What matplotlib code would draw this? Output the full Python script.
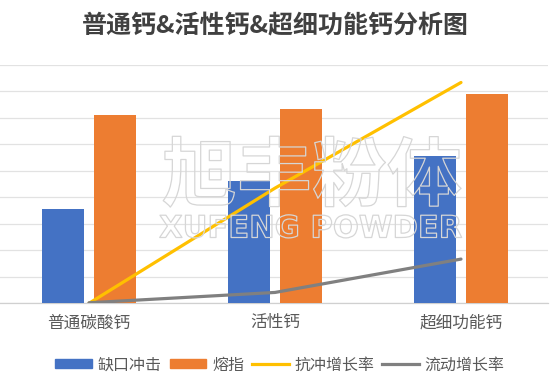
import numpy as np
import matplotlib
matplotlib.use('Agg')
import matplotlib.pyplot as plt
import matplotlib.patheffects as pe
from matplotlib.patches import Patch
from matplotlib.lines import Line2D

plt.rcParams['font.family'] = ['Noto Sans CJK SC', 'DejaVu Sans']

# data
categories = ['普通碳酸钙', '活性钙', '超细功能钙']
notch_impact = [3.58, 4.63, 5.57]      # 缺口冲击
melt_index = [7.1, 7.32, 7.9]          # 熔指
impact_growth = [0.0, 4.35, 8.34]      # 抗冲增长率
flow_growth = [0.02, 0.41, 1.67]       # 流动增长率
series_names = ['缺口冲击', '熔指', '抗冲增长率', '流动增长率']

blue = '#4472C4'
orange = '#ED7D31'
yellow = '#FFC000'
gray = '#808080'
text_gray = '#595959'

fig = plt.figure(figsize=(5.5, 3.85), dpi=100)
ax = fig.add_axes([0, 81.7 / 385, 548 / 550, 238.3 / 385])

x = np.arange(len(categories))
w = 0.225
ax.bar(x - 0.142, notch_impact, w, color=blue, zorder=3)
ax.bar(x + 0.14, melt_index, w, color=orange, zorder=3)
ax.plot(x, impact_growth, color=yellow, lw=2.3, solid_capstyle='round', zorder=4)
ax.plot(x, flow_growth, color=gray, lw=2.3, solid_capstyle='round', zorder=4)

ax.set_xlim(-89 / 186, 459 / 186)
ax.set_ylim(0, 9)
ax.set_yticks(np.arange(0, 10, 1))
ax.yaxis.grid(True, color='#e2e2e2', lw=0.9, zorder=0)
ax.set_yticklabels([])
ax.set_xticks(x)
ax.set_xticklabels(categories, fontsize=12, color=text_gray)
ax.tick_params(axis='both', length=0)
ax.tick_params(axis='x', pad=8)
for s in ['top', 'left', 'right']:
    ax.spines[s].set_visible(False)
ax.spines['bottom'].set_color('#d0d0d0')
ax.spines['bottom'].set_linewidth(0.9)

# faint outlined watermark
outline = [pe.Stroke(linewidth=0.9, foreground='#d6d6d6')]
fig.text(312 / 550, 1 - 178 / 385, '旭丰粉体', fontsize=54, ha='center', va='center',
         color='none', fontweight='bold', path_effects=outline, zorder=2)
fig.text(310 / 550, 1 - 229 / 385, 'XUFENG POWDER', fontsize=22, ha='center', va='center',
         color='none', fontweight='bold', family=['DejaVu Sans'], path_effects=outline, zorder=2)

fig.text(0.5, 1 - 25 / 385, '普通钙&活性钙&超细功能钙分析图', fontsize=18, fontweight='bold',
         color='#404040', ha='center', va='center')

handles = [Patch(color=blue), Patch(color=orange),
           Line2D([], [], color=yellow, lw=2.3), Line2D([], [], color=gray, lw=2.3)]
fig.legend(handles, series_names, loc='center', bbox_to_anchor=(280 / 550, 1 - 365 / 385),
           ncol=4, frameon=False, fontsize=11.5, labelcolor=text_gray,
           handlelength=2.3, handleheight=0.5, handletextpad=0.35, columnspacing=0.5)

fig.savefig('out.png', dpi=100)
